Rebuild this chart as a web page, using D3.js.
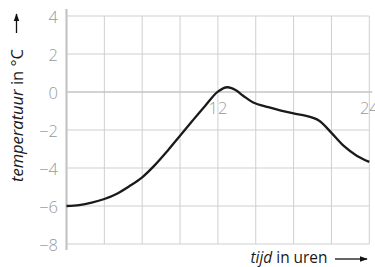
<!DOCTYPE html>
<html><head><meta charset="utf-8">
<script src="https://cdn.jsdelivr.net/npm/d3@7"></script>
<style>
html,body{margin:0;padding:0;background:#fff;}
svg{display:block;}
text{font-family:"Open Sans","Noto Sans",sans-serif;}
</style></head>
<body>
<script>
const hours = [0,1,2,3,4,5,6,7,8,9,10,11,12,12.75,13.4,14,14.8,16,17,18,19,20,21,22,23,24];
const temps = [-6.0,-5.95,-5.82,-5.63,-5.35,-4.95,-4.49,-3.85,-3.1,-2.3,-1.5,-0.72,0.02,0.25,0.1,-0.2,-0.55,-0.8,-0.98,-1.13,-1.26,-1.5,-2.15,-2.85,-3.35,-3.68];
const yTicks = [4,2,0,-2,-4,-6,-8];
const xGrid = [3,6,9,12,15,18,21,24];
const xLabels = [12,24];

const W=375,H=267;
const svg=d3.select("body").append("svg").attr("width",W).attr("height",H);
const x=d3.scaleLinear().domain([0,24]).range([66.5,369.3]);
const y=d3.scaleLinear().domain([-8,4]).range([244,16]);

// grid
svg.append("g").selectAll("line").data(yTicks.filter(d=>d!==0)).join("line")
  .attr("x1",x(0)).attr("x2",x(24)).attr("y1",d=>y(d)).attr("y2",d=>y(d))
  .attr("stroke","#cfcfcf").attr("stroke-width",1);
svg.append("g").selectAll("line").data(xGrid).join("line")
  .attr("x1",d=>x(d)).attr("x2",d=>x(d)).attr("y1",y(4)).attr("y2",y(-8))
  .attr("stroke","#cfcfcf").attr("stroke-width",1);
// x axis (0 line)
svg.append("line").attr("x1",x(0)).attr("x2",x(24)+3).attr("y1",y(0)).attr("y2",y(0))
  .attr("stroke","#c4c4c4").attr("stroke-width",1.6);
// y axis
svg.append("line").attr("x1",x(0)).attr("x2",x(0)).attr("y1",9).attr("y2",250)
  .attr("stroke","#c4c4c4").attr("stroke-width",2.2);

// tick labels
svg.append("g").selectAll("text").data(yTicks).join("text")
  .attr("x",58).attr("y",d=>y(d)).attr("text-anchor","end").attr("dominant-baseline","central")
  .attr("font-size",16.5).attr("font-weight",300).attr("fill","#999")
  .text(d=>d<0?"\u2212"+Math.abs(d):String(d));
svg.append("g").selectAll("text").data(xLabels).join("text")
  .attr("x",d=>x(d)).attr("y",113.5).attr("text-anchor","middle")
  .attr("font-size",16.5).attr("font-weight",300).attr("fill","#999")
  .text(d=>d);

// curve
const line=d3.line().x((d,i)=>x(hours[i])).y(d=>y(d)).curve(d3.curveCatmullRom.alpha(0.5));
svg.append("path").datum(temps).attr("d",line).attr("fill","none")
  .attr("stroke","#1a1a1a").attr("stroke-width",2.3).attr("stroke-linejoin","round");

// arrow marker
const defs=svg.append("defs");
defs.append("marker").attr("id","ah").attr("viewBox","0 0 10 10").attr("refX",9).attr("refY",5)
  .attr("markerWidth",8).attr("markerHeight",8).attr("markerUnits","userSpaceOnUse").attr("orient","auto")
  .append("path").attr("d","M0,1.5 L10,5 L0,8.5 Z").attr("fill","#111");

// y title
const yt=svg.append("text").attr("transform","translate(22.5,182) rotate(-90)")
  .attr("font-size",17).attr("fill","#1a1a1a").attr("textLength",133).attr("lengthAdjust","spacingAndGlyphs");
yt.append("tspan").attr("font-style","italic").text("temperatuur");
yt.append("tspan").text(" in °C");
svg.append("line").attr("x1",16.5).attr("x2",16.5).attr("y1",33).attr("y2",14)
  .attr("stroke","#111").attr("stroke-width",1.3).attr("marker-end","url(#ah)");

// x title
const xt=svg.append("text").attr("x",250.5).attr("y",263)
  .attr("font-size",17).attr("fill","#1a1a1a").attr("textLength",77).attr("lengthAdjust","spacingAndGlyphs");
xt.append("tspan").attr("font-style","italic").text("tijd");
xt.append("tspan").text(" in uren");
svg.append("line").attr("x1",335).attr("x2",367).attr("y1",259).attr("y2",259)
  .attr("stroke","#111").attr("stroke-width",1.3).attr("marker-end","url(#ah)");
</script>
</body></html>
